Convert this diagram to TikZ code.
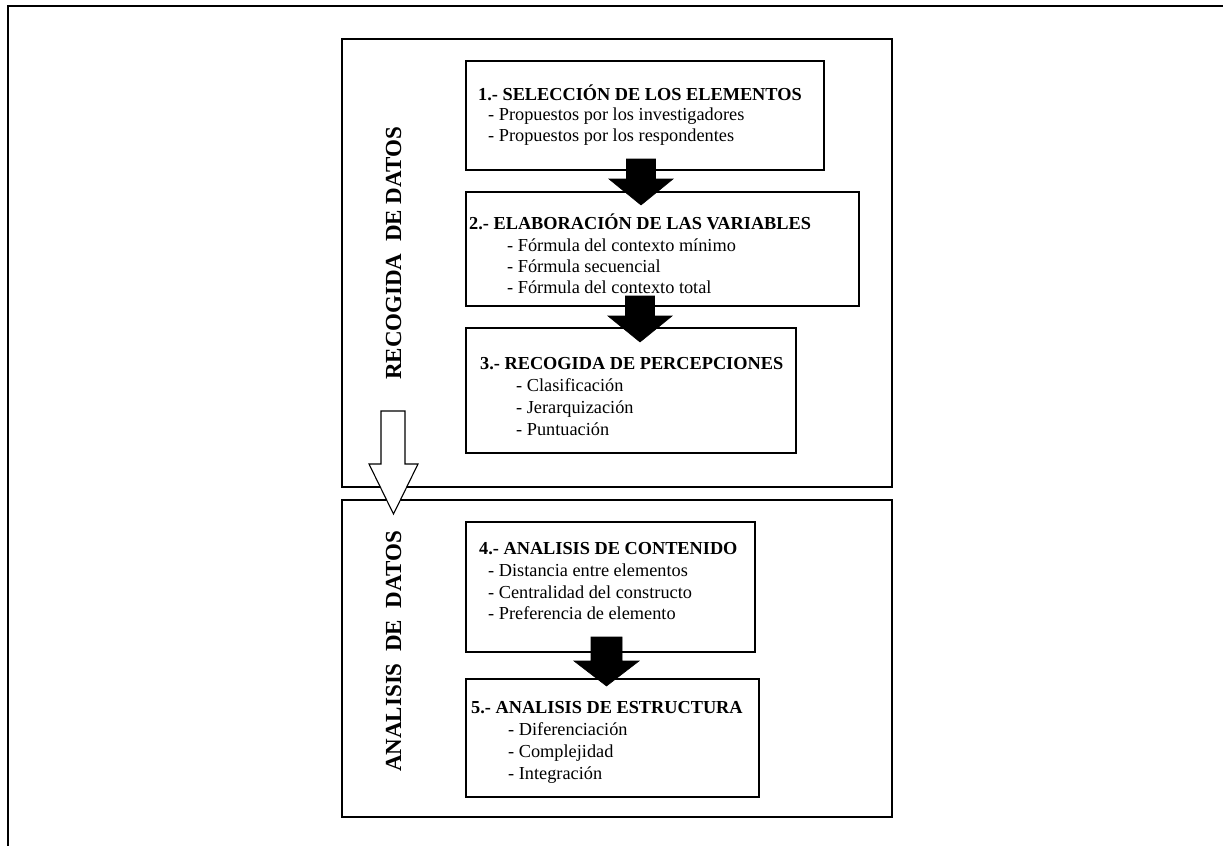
\documentclass[tikz,border=0pt]{standalone}
\usepackage{fontspec}
\setmainfont{Liberation Serif}
\usetikzlibrary{fit}
\begin{document}
\begin{tikzpicture}[x=1pt,y=-1pt,
  panel/.style={draw=black,line width=1.3pt,inner sep=0pt},
  stepbox/.style={draw=black,line width=1.3pt,inner sep=0pt},
  head/.style={font=\fontsize{18.3}{22}\selectfont\bfseries,anchor=base west,inner sep=0pt},
  item/.style={font=\fontsize{18.3}{22}\selectfont,anchor=base west,inner sep=0pt},
  side/.style={font=\fontsize{23}{26}\selectfont\bfseries,rotate=90,inner sep=0pt},
  solidarrow/.style={fill=black,draw=black,line width=0.6pt,line join=miter},
  hollowarrow/.style={fill=white,draw=black,line width=1.1pt,line join=miter}]
\useasboundingbox (0,0) rectangle (1223,846);
\fill[white] (0,0) rectangle (1223,846);

% page frame: top and left rules only
\draw[line width=2.3pt,line join=miter] (1223,6) -- (8,6) -- (8,846);

% the two phases
\node[panel,fit={(342,39) (892,487)}] (phaseA) {};
\node[panel,fit={(342,500) (892,817)}] (phaseB) {};
\node[side] (labelA) at (393.5,253.5) {RECOGIDA\ \ DE DATOS};
\node[side] (labelB) at (393.5,651.5) {ANALISIS\ \ DE\ \ DATOS};

% step boxes
\node[stepbox,fit={(466,61) (824,170)}] (b1) {};
\node[stepbox,fit={(466,192) (859,306)}] (b2) {};
\node[stepbox,fit={(466,328) (796,453)}] (b3) {};
\node[stepbox,fit={(466,522) (755,652)}] (b4) {};
\node[stepbox,fit={(466,679) (759,797)}] (b5) {};

% step 1
\node[head] (h1) at (478,100) {1.- SELECCIÓN DE LOS ELEMENTOS};
\node[item] (i1a) at (488,120) {- Propuestos por los investigadores};
\node[item] (i1b) at (488,141) {- Propuestos por los respondentes};
% step 2
\node[head] (h2) at (469,229) {2.- ELABORACIÓN DE LAS VARIABLES};
\node[item] (i2a) at (507,251) {- Fórmula del contexto mínimo};
\node[item] (i2b) at (507,272) {- Fórmula secuencial};
\node[item] (i2c) at (507,293) {- Fórmula del contexto total};
% step 3
\node[head] (h3) at (480,369) {3.- RECOGIDA DE PERCEPCIONES};
\node[item] (i3a) at (516,391) {- Clasificación};
\node[item] (i3b) at (516,413) {- Jerarquización};
\node[item] (i3c) at (516,435) {- Puntuación};
% step 4
\node[head] (h4) at (479,554) {4.- ANALISIS DE CONTENIDO};
\node[item] (i4a) at (488,576) {- Distancia entre elementos};
\node[item] (i4b) at (488,598) {- Centralidad del constructo};
\node[item] (i4c) at (488,619) {- Preferencia de elemento};
% step 5
\node[head] (h5) at (471,713) {5.- ANALISIS DE ESTRUCTURA};
\node[item] (i5a) at (508,735) {- Diferenciación};
\node[item] (i5b) at (508,757) {- Complejidad};
\node[item] (i5c) at (508,779) {- Integración};

% solid block arrows between steps
\draw[solidarrow] (626.5,159) -- (655.5,159) -- (655.5,179) -- (673,179)
  -- (641,205) -- (609,179) -- (626.5,179) -- cycle;
\draw[solidarrow] (625.5,296) -- (654.5,296) -- (654.5,316) -- (672,316)
  -- (640,342) -- (608,316) -- (625.5,316) -- cycle;
\draw[solidarrow] (591,637) -- (622,637) -- (622,661) -- (639,661)
  -- (606.5,686) -- (574,661) -- (591,661) -- cycle;

% hollow arrow from data collection to analysis
\draw[hollowarrow] (381,411) -- (405,411) -- (405,464) -- (418,464)
  -- (393.5,514) -- (369,464) -- (381,464) -- cycle;
\end{tikzpicture}
\end{document}
